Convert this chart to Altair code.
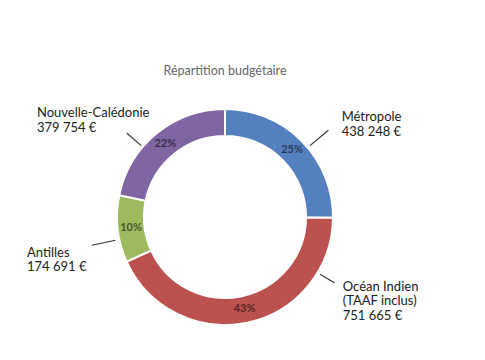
import altair as alt
import pandas as pd

# ---- data ----
title_text = "Répartition budgétaire"
categories = ["Métropole", "Océan Indien", "Antilles", "Nouvelle-Calédonie"]
label_names = ["Métropole", "Océan Indien\n(TAAF inclus)", "Antilles", "Nouvelle-Calédonie"]
amounts = [438248, 751665, 174691, 379754]
colors = ["#5580c0", "#bc524f", "#9dbb5e", "#8065a3"]

# ---- layout (annotation placement, in polar terms around the donut centre) ----
CX, CY = 217, 209
R_OUT, R_IN = 108, 81
leader_angle = [50, 121, 258, 310.5]
leader_r1 = [111, 111, 112, 110]
leader_r2 = [135, 128, 136, 129]
text_angle = [50.6, 122.1, 258.6, 298]
text_r = [151, 139, 202, 213]
FONT = "Lato"


def fmt(v):
    return f"{v:,}".replace(",", " ") + " €"


df = pd.DataFrame({
    "cat": categories,
    "value": amounts,
    "order": list(range(len(categories))),
})

ann = pd.DataFrame({
    "cat": categories,
    "label": [n + "\n" + fmt(v) for n, v in zip(label_names, amounts)],
    "la": leader_angle,
    "r1": leader_r1,
    "r2": leader_r2,
    "ta": text_angle,
    "tr": text_r,
})

base = alt.Chart(df)

arcs = base.mark_arc(
    outerRadius=R_OUT, innerRadius=R_IN, stroke="white", strokeWidth=2
).encode(
    theta=alt.Theta("value:Q", stack=True),
    order=alt.Order("order:Q"),
    color=alt.Color("cat:N", scale=alt.Scale(domain=categories, range=colors), legend=None),
    x=alt.value(CX),
    y=alt.value(CY),
)

pct = base.transform_joinaggregate(
    total="sum(value)"
).transform_calculate(
    pct="format(round(datum.value / datum.total * 100), 'd') + '%'"
).mark_text(
    radius=(R_OUT + R_IN) / 2, font=FONT, fontSize=11, fontWeight="bold",
    color="black", opacity=0.55
).encode(
    theta=alt.Theta("value:Q", stack=True),
    order=alt.Order("order:Q"),
    text="pct:N",
    x=alt.value(CX),
    y=alt.value(CY),
)

ann_base = alt.Chart(ann).transform_calculate(
    x1=f"{CX} + datum.r1 * sin(datum.la * PI / 180)",
    y1=f"{CY} - datum.r1 * cos(datum.la * PI / 180)",
    x2=f"{CX} + datum.r2 * sin(datum.la * PI / 180)",
    y2=f"{CY} - datum.r2 * cos(datum.la * PI / 180)",
    tx=f"{CX} + datum.tr * sin(datum.ta * PI / 180)",
    ty=f"{CY} - datum.tr * cos(datum.ta * PI / 180)",
)

leaders = ann_base.mark_rule(color="#333333", strokeWidth=1.1).encode(
    x=alt.X("x1:Q", scale=None, axis=None),
    y=alt.Y("y1:Q", scale=None, axis=None),
    x2="x2:Q",
    y2="y2:Q",
)

labels = ann_base.mark_text(
    align="left", baseline="alphabetic", lineBreak="\n", lineHeight=14.5,
    font=FONT, fontSize=13, color="#222222"
).encode(
    x=alt.X("tx:Q", scale=None, axis=None),
    y=alt.Y("ty:Q", scale=None, axis=None),
    text="label:N",
)

title = alt.Chart(pd.DataFrame({"t": [title_text]})).mark_text(
    align="center", baseline="alphabetic", font=FONT, fontSize=12.5, color="#666666"
).encode(
    x=alt.value(217),
    y=alt.value(67),
    text="t:N",
)

chart = alt.layer(arcs, pct, leaders, labels, title).resolve_scale(
    x="independent", y="independent"
).properties(
    width=469, height=344, padding=0, background="white"
).configure_view(stroke=None)

chart.save("out.html", embed_options={"renderer": "svg", "actions": False})
